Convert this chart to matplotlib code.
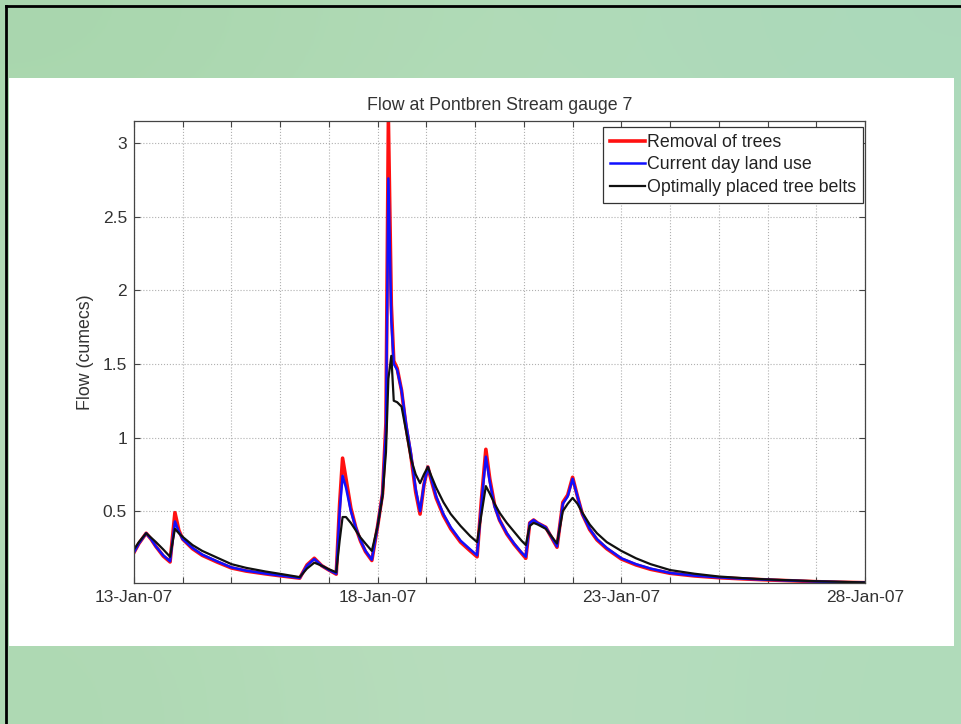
import numpy as np
import pandas as pd
import matplotlib
matplotlib.use("Agg")
import matplotlib.pyplot as plt
from matplotlib.patches import Rectangle
from matplotlib.lines import Line2D

# time in days after 13-Jan-2007 00:00
days = [0.00, 0.10, 0.25, 0.35, 0.45, 0.60, 0.74, 0.84, 0.92, 1.00, 1.20, 1.40,
        1.70, 2.00, 2.30, 2.70, 3.00, 3.40, 3.55, 3.70, 3.85, 4.00, 4.15, 4.22,
        4.28, 4.35, 4.45, 4.55, 4.65, 4.75, 4.88, 5.00, 5.10, 5.17, 5.22, 5.28,
        5.33, 5.40, 5.49, 5.58, 5.68, 5.78, 5.87, 5.95, 6.03, 6.10, 6.20, 6.35,
        6.50, 6.70, 6.90, 7.04, 7.13, 7.22, 7.30, 7.40, 7.50, 7.65, 7.80, 7.95,
        8.04, 8.12, 8.20, 8.28, 8.45, 8.68, 8.80, 8.90, 9.00, 9.10, 9.20, 9.35,
        9.50, 9.70, 10.0, 10.3, 10.6, 11.0, 11.5, 12.0, 12.5, 13.0, 13.5, 14.0,
        14.5, 15.0]

current = [0.22, 0.28, 0.35, 0.31, 0.26, 0.20, 0.16, 0.43, 0.36, 0.31, 0.25, 0.205,
           0.16, 0.118, 0.096, 0.076, 0.063, 0.046, 0.13, 0.175, 0.13, 0.10, 0.075, 0.50,
           0.74, 0.66, 0.50, 0.39, 0.30, 0.23, 0.17, 0.40, 0.62, 1.05, 2.76, 1.80,
           1.50, 1.46, 1.32, 1.10, 0.90, 0.65, 0.50, 0.68, 0.80, 0.72, 0.60, 0.48,
           0.39, 0.30, 0.24, 0.20, 0.55, 0.87, 0.70, 0.53, 0.44, 0.35, 0.28, 0.22,
           0.19, 0.42, 0.44, 0.42, 0.39, 0.26, 0.55, 0.60, 0.72, 0.60, 0.48, 0.38,
           0.31, 0.25, 0.18, 0.14, 0.11, 0.08, 0.062, 0.05, 0.041, 0.034, 0.028, 0.022,
           0.018, 0.015]

removal = [0.22, 0.28, 0.35, 0.31, 0.26, 0.195, 0.155, 0.49, 0.37, 0.31, 0.245, 0.20,
           0.155, 0.114, 0.093, 0.074, 0.061, 0.045, 0.135, 0.18, 0.13, 0.10, 0.072, 0.55,
           0.86, 0.72, 0.52, 0.39, 0.295, 0.225, 0.165, 0.40, 0.62, 1.10, 3.15, 1.90,
           1.52, 1.47, 1.32, 1.08, 0.88, 0.63, 0.48, 0.68, 0.80, 0.71, 0.59, 0.47,
           0.38, 0.29, 0.23, 0.19, 0.58, 0.92, 0.72, 0.54, 0.44, 0.345, 0.275, 0.215,
           0.18, 0.42, 0.44, 0.42, 0.39, 0.255, 0.56, 0.61, 0.73, 0.60, 0.48, 0.375,
           0.305, 0.245, 0.175, 0.135, 0.105, 0.078, 0.06, 0.048, 0.04, 0.033, 0.027, 0.021,
           0.017, 0.014]

optimal = [0.24, 0.29, 0.35, 0.32, 0.29, 0.24, 0.19, 0.38, 0.35, 0.325, 0.27, 0.23,
           0.185, 0.14, 0.115, 0.09, 0.074, 0.052, 0.11, 0.15, 0.13, 0.105, 0.085, 0.30,
           0.46, 0.46, 0.42, 0.37, 0.32, 0.28, 0.23, 0.40, 0.60, 0.90, 1.40, 1.555,
           1.25, 1.24, 1.21, 1.05, 0.86, 0.75, 0.69, 0.75, 0.80, 0.74, 0.66, 0.56,
           0.48, 0.40, 0.33, 0.29, 0.48, 0.67, 0.62, 0.55, 0.49, 0.42, 0.36, 0.30,
           0.27, 0.40, 0.42, 0.41, 0.38, 0.28, 0.50, 0.55, 0.59, 0.55, 0.49, 0.41,
           0.35, 0.29, 0.23, 0.18, 0.14, 0.10, 0.075, 0.056, 0.045, 0.036, 0.03, 0.024,
           0.02, 0.016]

labels = ["Removal of trees", "Current day land use", "Optimally placed tree belts"]
start = pd.Timestamp("2007-01-13")
t = start + pd.to_timedelta(days, unit="D")
tick_dates = pd.date_range("2007-01-13", "2007-01-28", freq="D")

W, H = 962, 724
fig = plt.figure(figsize=(W / 100, H / 100), dpi=100)

# slide background: soft green wash, white panel, dark frame on top/left
bg = fig.add_axes([0, 0, 1, 1], zorder=-10)
wash = np.array([[[0.66, 0.84, 0.68], [0.70, 0.86, 0.72], [0.67, 0.85, 0.73]],
                 [[0.72, 0.87, 0.73], [0.74, 0.88, 0.76], [0.70, 0.86, 0.74]],
                 [[0.68, 0.85, 0.70], [0.73, 0.87, 0.75], [0.69, 0.86, 0.73]]])
bg.imshow(wash, extent=[0, W, 0, H], aspect="auto", interpolation="bicubic")
bg.add_patch(Rectangle((9, H - 646), 945, 568, facecolor="white", edgecolor="none"))
bg.add_line(Line2D([6.5, 6.5], [0, H - 5.5], color="black", lw=2))
bg.add_line(Line2D([6.5, W], [H - 5.5, H - 5.5], color="black", lw=2))
bg.set_xlim(0, W)
bg.set_ylim(0, H)
bg.axis("off")

ax = fig.add_axes([134 / W, (H - 583) / H, 731 / W, 462 / H])
ax.plot(t, removal, color="#ff1010", lw=2.6, label=labels[0])
ax.plot(t, current, color="#1010ff", lw=1.8, label=labels[1])
ax.plot(t, optimal, color="#101010", lw=1.6, label=labels[2])

ax.set_xlim(tick_dates[0], tick_dates[-1])
ax.set_ylim(0.012, 3.15)
ax.set_xticks(tick_dates)
ax.set_xticklabels([d.strftime("%d-%b-%y") if i % 5 == 0 else "" for i, d in enumerate(tick_dates)])
ax.set_yticks([0.5, 1, 1.5, 2, 2.5, 3])
ax.set_yticklabels(["0.5", "1", "1.5", "2", "2.5", "3"])

font = "Liberation Sans"
for lab in ax.get_xticklabels() + ax.get_yticklabels():
    lab.set_fontfamily(font)
    lab.set_fontsize(12.5)
    lab.set_color("#333333")
ax.tick_params(direction="in", length=4, width=0.8, color="#444444", top=True, right=True, pad=5)
ax.grid(True, color="#b0b0b0", linestyle=":", lw=0.8)
for s in ax.spines.values():
    s.set_color("#444444")
    s.set_linewidth(0.9)

ax.set_title("Flow at Pontbren Stream gauge 7", fontfamily=font, fontsize=12.8, color="#333333", pad=8)
ax.set_ylabel("Flow (cumecs)", fontfamily=font, fontsize=12.8, color="#333333", labelpad=6)

leg = ax.legend(loc="upper right", bbox_to_anchor=(0.997, 0.987), borderaxespad=0,
                prop={"family": font, "size": 12.8}, fancybox=False, framealpha=1,
                edgecolor="#333333", handlelength=1.95, handletextpad=0.1,
                labelspacing=0.3, borderpad=0.4)
leg.get_frame().set_linewidth(0.9)
for txt in leg.get_texts():
    txt.set_color("#222222")

fig.savefig("out.png", dpi=100)
